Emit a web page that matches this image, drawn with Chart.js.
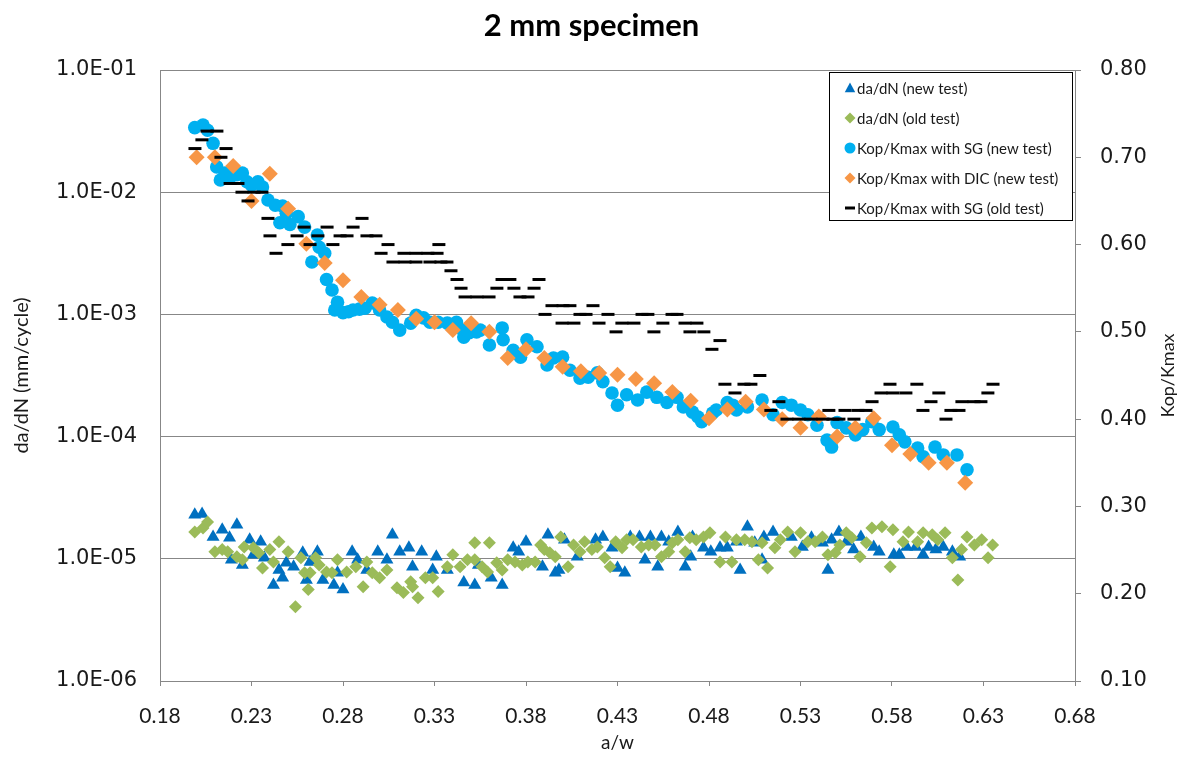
<!DOCTYPE html>
<html><head><meta charset="utf-8">
<script src="https://cdn.jsdelivr.net/npm/chart.js@4.4.0/dist/chart.umd.min.js"></script>
<style>html,body{margin:0;padding:0;background:#fff;}#wrap{width:1183px;height:758px;position:relative;}</style>
</head><body><div id="wrap"><canvas id="c" width="1183" height="758"></canvas></div>
<script>
const titleText = '2 mm specimen';
const xTitle = 'a/w';
const yLeftTitle = 'da/dN (mm/cycle)';
const yRightTitle = 'Kop/Kmax';
const seriesNames = ['da/dN (new test)','da/dN (old test)','Kop/Kmax with SG (new test)','Kop/Kmax with DIC (new test)','Kop/Kmax with SG (old test)'];
const xTicks = [0.18,0.23,0.28,0.33,0.38,0.43,0.48,0.53,0.58,0.63,0.68];
const leftTicks = [1e-6,1e-5,1e-4,1e-3,1e-2,1e-1];
const rightTicks = [0.1,0.2,0.3,0.4,0.5,0.6,0.7,0.8];

// da/dN (new test) - triangles, left log axis
const daNewX = [0.199,0.203,0.209,0.214,0.218,0.219,0.222,0.225,0.229,0.231,0.235,0.237,0.242,0.245,0.247,0.249,0.253,0.258,0.260,0.262,0.266,0.269,0.275,0.277,0.280,0.285,0.288,0.293,0.299,0.304,0.307,0.311,0.316,0.318,0.323,0.329,0.331,0.337,0.346,0.352,0.354,0.361,0.367,0.373,0.376,0.380,0.389,0.392,0.396,0.398,0.401,0.408,0.418,0.422,0.427,0.430,0.434,0.437,0.442,0.445,0.448,0.452,0.454,0.458,0.463,0.467,0.470,0.471,0.477,0.481,0.486,0.490,0.495,0.497,0.501,0.505,0.509,0.510,0.515,0.525,0.531,0.536,0.542,0.545,0.547,0.551,0.555,0.559,0.563,0.570,0.573,0.581,0.584,0.588,0.593,0.597,0.600,0.604,0.608,0.613,0.617];
const daNewY = [2.29e-5,2.33e-5,1.51e-5,1.73e-5,1.49e-5,9.8e-6,1.90e-5,8.9e-6,1.43e-5,1.08e-5,1.38e-5,1.02e-5,6.1e-6,8.1e-6,7.0e-6,9.3e-6,8.6e-6,1.12e-5,6.7e-6,9.4e-6,1.14e-5,6.7e-6,6.1e-6,7.7e-6,5.6e-6,1.14e-5,9.8e-6,8.1e-6,1.14e-5,9.8e-6,1.57e-5,1.14e-5,1.23e-5,8.6e-6,1.14e-5,8.1e-6,1.04e-5,8.1e-6,6.4e-6,6.1e-6,8.9e-6,7.0e-6,6.1e-6,1.23e-5,1.14e-5,1.38e-5,8.6e-6,1.57e-5,7.7e-6,8.1e-6,1.43e-5,1.04e-5,1.43e-5,1.51e-5,1.23e-5,8.4e-6,7.7e-6,1.51e-5,1.51e-5,9.8e-6,1.51e-5,8.6e-6,1.51e-5,1.38e-5,1.66e-5,8.6e-6,1.04e-5,1.51e-5,1.23e-5,1.14e-5,1.23e-5,1.23e-5,1.38e-5,8.1e-6,1.83e-5,1.35e-5,9.8e-6,1.51e-5,1.66e-5,1.51e-5,1.25e-5,1.49e-5,1.35e-5,8.1e-6,1.43e-5,1.66e-5,1.38e-5,1.19e-5,1.51e-5,1.25e-5,1.14e-5,1.08e-5,1.08e-5,1.25e-5,1.25e-5,1.08e-5,1.25e-5,1.19e-5,1.25e-5,1.14e-5,1.04e-5];

// da/dN (old test) - green diamonds, left log axis
const daOldX = [0.199,0.2035,0.206,0.210,0.214,0.217,0.222,0.225,0.226,0.231,0.234,0.236,0.240,0.242,0.245,0.250,0.254,0.257,0.259,0.261,0.262,0.265,0.267,0.271,0.274,0.277,0.282,0.287,0.291,0.293,0.296,0.300,0.304,0.3095,0.313,0.317,0.318,0.321,0.325,0.329,0.332,0.337,0.340,0.344,0.348,0.352,0.352,0.356,0.359,0.360,0.364,0.367,0.370,0.374,0.378,0.381,0.385,0.388,0.390,0.393,0.396,0.399,0.403,0.406,0.4095,0.412,0.416,0.419,0.423,0.426,0.429,0.4325,0.435,0.4385,0.443,0.447,0.4505,0.454,0.458,0.460,0.463,0.467,0.4695,0.473,0.477,0.4805,0.486,0.489,0.4925,0.495,0.4995,0.5035,0.507,0.509,0.512,0.516,0.519,0.523,0.527,0.530,0.534,0.538,0.542,0.545,0.549,0.5515,0.555,0.558,0.5625,0.566,0.569,0.5745,0.579,0.5805,0.586,0.589,0.594,0.597,0.602,0.605,0.609,0.613,0.616,0.618,0.621,0.625,0.629,0.6325,0.635];
const daOldY = [1.66e-5,1.79e-5,2.0e-5,1.14e-5,1.19e-5,1.14e-5,1.04e-5,9.8e-6,1.25e-5,1.23e-5,1.12e-5,8.4e-6,1.19e-5,9.4e-6,1.38e-5,1.14e-5,4.05e-6,1.02e-5,7.7e-6,5.6e-6,7.7e-6,1.02e-5,8.9e-6,7.8e-6,7.7e-6,9.8e-6,7.8e-6,8.6e-6,5.9e-6,9.4e-6,7.7e-6,7.0e-6,8.1e-6,5.8e-6,5.3e-6,6.5e-6,5.9e-6,4.8e-6,7.0e-6,7.0e-6,5.4e-6,8.6e-6,1.08e-5,8.6e-6,9.8e-6,1.35e-5,9.8e-6,8.6e-6,7.8e-6,1.35e-5,9.3e-6,8.1e-6,9.8e-6,9.4e-6,8.9e-6,9.4e-6,9.4e-6,1.30e-5,1.19e-5,1.12e-5,1.04e-5,1.51e-5,8.6e-6,1.30e-5,1.14e-5,1.38e-5,1.19e-5,1.25e-5,1.02e-5,8.6e-6,1.38e-5,1.23e-5,1.43e-5,1.43e-5,1.25e-5,1.30e-5,1.30e-5,1.04e-5,1.14e-5,1.35e-5,1.43e-5,1.14e-5,1.49e-5,1.43e-5,1.51e-5,1.63e-5,9.4e-6,1.51e-5,9.4e-6,1.43e-5,1.43e-5,1.38e-5,9.8e-6,1.35e-5,8.4e-6,1.23e-5,1.43e-5,1.66e-5,1.14e-5,1.63e-5,1.38e-5,1.38e-5,1.51e-5,1.08e-5,1.12e-5,1.30e-5,1.63e-5,1.49e-5,1.04e-5,1.35e-5,1.79e-5,1.83e-5,8.6e-6,1.73e-5,1.38e-5,1.66e-5,1.38e-5,1.63e-5,1.57e-5,1.43e-5,1.63e-5,1.02e-5,6.7e-6,1.19e-5,1.51e-5,1.30e-5,1.43e-5,1.02e-5,1.30e-5];

// Kop/Kmax with SG (new test) - cyan circles, right axis
const sgNewX = [0.199,0.2035,0.206,0.209,0.211,0.213,0.2155,0.218,0.222,0.225,0.2275,0.230,0.2335,0.236,0.239,0.243,0.2455,0.247,0.249,0.251,0.2555,0.259,0.263,0.266,0.267,0.270,0.271,0.274,0.2755,0.277,0.280,0.283,0.2855,0.289,0.292,0.296,0.300,0.304,0.307,0.311,0.317,0.320,0.324,0.3275,0.332,0.337,0.340,0.342,0.3455,0.346,0.349,0.353,0.355,0.360,0.367,0.3675,0.373,0.377,0.3805,0.386,0.3915,0.395,0.400,0.404,0.4095,0.414,0.419,0.422,0.427,0.430,0.435,0.441,0.446,0.4515,0.457,0.4625,0.466,0.471,0.474,0.476,0.482,0.484,0.490,0.493,0.495,0.501,0.509,0.515,0.520,0.525,0.530,0.534,0.539,0.5445,0.547,0.550,0.555,0.560,0.564,0.569,0.573,0.5805,0.584,0.587,0.594,0.597,0.6035,0.608,0.6155,0.621];
const sgNewY = [0.734,0.737,0.731,0.716,0.689,0.674,0.682,0.676,0.680,0.682,0.672,0.668,0.672,0.666,0.651,0.645,0.625,0.644,0.636,0.623,0.632,0.620,0.580,0.611,0.597,0.590,0.560,0.548,0.525,0.534,0.522,0.523,0.525,0.526,0.527,0.533,0.525,0.517,0.511,0.502,0.510,0.519,0.516,0.511,0.511,0.510,0.508,0.511,0.502,0.494,0.499,0.500,0.502,0.485,0.5045,0.491,0.479,0.471,0.491,0.483,0.462,0.470,0.471,0.456,0.447,0.448,0.453,0.443,0.430,0.416,0.428,0.422,0.431,0.425,0.419,0.425,0.414,0.408,0.4025,0.397,0.407,0.4105,0.419,0.416,0.4105,0.414,0.422,0.405,0.419,0.416,0.4105,0.405,0.393,0.376,0.368,0.396,0.390,0.382,0.388,0.397,0.388,0.391,0.382,0.374,0.367,0.357,0.368,0.359,0.359,0.342];

// Kop/Kmax with DIC (new test) - orange diamonds, right axis
const dicNewX = [0.20,0.21,0.22,0.23,0.24,0.25,0.26,0.27,0.28,0.29,0.30,0.31,0.32,0.33,0.34,0.35,0.36,0.37,0.38,0.39,0.40,0.41,0.42,0.43,0.44,0.45,0.46,0.47,0.48,0.49,0.50,0.51,0.52,0.53,0.54,0.55,0.56,0.57,0.58,0.59,0.60,0.61,0.62];
const dicNewY = [0.700,0.700,0.690,0.650,0.681,0.641,0.601,0.579,0.559,0.540,0.531,0.525,0.515,0.511,0.502,0.510,0.500,0.470,0.480,0.470,0.460,0.455,0.453,0.451,0.446,0.441,0.431,0.421,0.401,0.411,0.420,0.411,0.400,0.390,0.403,0.380,0.390,0.401,0.370,0.360,0.350,0.350,0.327];

// Kop/Kmax with SG (old test) - black dashes, right axis
const sgOldX = [0.1991,0.2029,0.2057,0.2111,0.2133,0.2161,0.2183,0.2226,0.2248,0.2281,0.2314,0.2357,0.2390,0.2401,0.2434,0.2499,0.2549,0.2587,0.2620,0.2663,0.2713,0.2745,0.2784,0.2822,0.2855,0.2904,0.2931,0.2980,0.3008,0.3046,0.3073,0.3133,0.3139,0.3199,0.3199,0.3264,0.3275,0.3314,0.3324,0.3335,0.3368,0.3390,0.3423,0.3445,0.3467,0.3532,0.3598,0.3641,0.3669,0.3712,0.3734,0.3767,0.3811,0.3844,0.3871,0.3904,0.3942,0.3997,0.4002,0.4040,0.4062,0.4095,0.4128,0.4166,0.4199,0.4248,0.4292,0.4324,0.4390,0.4434,0.4466,0.4499,0.4548,0.4598,0.4625,0.4669,0.4696,0.4734,0.4772,0.4816,0.4860,0.4887,0.4942,0.4991,0.5029,0.5078,0.5138,0.5182,0.5226,0.5291,0.5357,0.5423,0.5455,0.5477,0.5510,0.5543,0.5592,0.5614,0.5658,0.5691,0.5740,0.5789,0.5805,0.5876,0.5936,0.5969,0.6013,0.6056,0.6095,0.6122,0.6166,0.6182,0.6248,0.6286,0.6324,0.6352];
const sgOldY = [0.71,0.72,0.73,0.73,0.70,0.71,0.67,0.67,0.66,0.65,0.66,0.66,0.63,0.61,0.59,0.60,0.61,0.62,0.60,0.61,0.62,0.60,0.61,0.61,0.62,0.63,0.61,0.61,0.59,0.60,0.58,0.59,0.58,0.58,0.59,0.59,0.58,0.59,0.60,0.58,0.58,0.57,0.56,0.55,0.54,0.54,0.54,0.55,0.56,0.56,0.55,0.54,0.54,0.55,0.56,0.52,0.53,0.51,0.53,0.53,0.51,0.52,0.52,0.53,0.51,0.52,0.50,0.51,0.51,0.52,0.52,0.50,0.51,0.52,0.52,0.51,0.50,0.51,0.50,0.48,0.49,0.44,0.43,0.44,0.44,0.45,0.41,0.42,0.40,0.40,0.40,0.40,0.41,0.40,0.40,0.41,0.40,0.41,0.41,0.42,0.43,0.44,0.43,0.43,0.44,0.41,0.42,0.43,0.40,0.41,0.41,0.42,0.42,0.42,0.43,0.44];

const colTri = '#0070C0', colGreen = '#9BBB59', colCyan = '#00B0F0', colOrange = '#F79646', colBlack = '#000000';
const gridCol = '#878787';
const zip = (xs, ys) => xs.map((x, i) => ({x: x, y: ys[i]}));

function fmtSci(v) {
  const parts = v.toExponential(1).split('e');
  const n = parseInt(parts[1], 10);
  return parts[0] + 'E' + (n < 0 ? '-' : '+') + String(Math.abs(n)).padStart(2, '0');
}

const legendPlugin = {
  id: 'customLegend',
  afterDraw(chart) {
    const ctx = chart.ctx;
    const ca = chart.chartArea;
    ctx.save();
    ctx.fillStyle = '#1a1a1a';
    ctx.font = '18px Lato';
    ctx.textAlign = 'center';
    ctx.textBaseline = 'middle';
    ctx.translate(1168, (ca.top + ca.bottom) / 2);
    ctx.rotate(-Math.PI / 2);
    ctx.fillText(yRightTitle, 0, 0);
    ctx.restore();

    ctx.save();
    const bx = 829, by = 72, bw = 243, bh = 148;
    ctx.fillStyle = '#ffffff';
    ctx.fillRect(bx, by, bw, bh);
    ctx.strokeStyle = '#000';
    ctx.lineWidth = 1;
    ctx.strokeRect(bx + 0.5, by + 0.5, bw, bh);
    const rows = [88, 118, 148, 178, 208];
    const styles = chart.data.datasets.slice().sort((a, b) => a.legendIndex - b.legendIndex);
    ctx.font = '15px Lato';
    ctx.textAlign = 'left';
    ctx.textBaseline = 'middle';
    styles.forEach((ds, i) => {
      const y = rows[i];
      const mx = 850;
      ctx.fillStyle = ds.pointBackgroundColor;
      ctx.strokeStyle = ds.pointBorderColor;
      ctx.beginPath();
      const r = 5.5;
      if (ds.pointStyle === 'triangle') {
        ctx.moveTo(mx, y - r); ctx.lineTo(mx + r * 0.95, y + r * 0.75); ctx.lineTo(mx - r * 0.95, y + r * 0.75); ctx.closePath(); ctx.fill();
      } else if (ds.pointStyle === 'rectRot') {
        ctx.moveTo(mx, y - r); ctx.lineTo(mx + r, y); ctx.lineTo(mx, y + r); ctx.lineTo(mx - r, y); ctx.closePath(); ctx.fill();
      } else if (ds.pointStyle === 'circle') {
        ctx.arc(mx, y, r, 0, Math.PI * 2); ctx.fill();
      } else {
        ctx.lineWidth = 3; ctx.moveTo(mx - 5, y); ctx.lineTo(mx + 5, y); ctx.stroke();
      }
      ctx.fillStyle = '#1a1a1a';
      ctx.fillText(ds.label, 857, y + 1);
    });
    ctx.restore();
  }
};

const datasets = [
  {label: seriesNames[0], legendIndex: 0, order: 5, yAxisID: 'yL', data: zip(daNewX, daNewY), pointStyle: 'triangle', pointRadius: 7.5, pointBackgroundColor: colTri, pointBorderColor: colTri, pointBorderWidth: 0, showLine: false},
  {label: seriesNames[1], legendIndex: 1, order: 4, yAxisID: 'yL', data: zip(daOldX, daOldY), pointStyle: 'rectRot', pointRadius: 6.5, pointBackgroundColor: colGreen, pointBorderColor: colGreen, pointBorderWidth: 0, showLine: false},
  {label: seriesNames[2], legendIndex: 2, order: 3, yAxisID: 'yR', data: zip(sgNewX, sgNewY), pointStyle: 'circle', pointRadius: 6.8, pointBackgroundColor: colCyan, pointBorderColor: colCyan, pointBorderWidth: 0, showLine: false},
  {label: seriesNames[3], legendIndex: 3, order: 2, yAxisID: 'yR', data: zip(dicNewX, dicNewY), pointStyle: 'rectRot', pointRadius: 8, pointBackgroundColor: colOrange, pointBorderColor: colOrange, pointBorderWidth: 0, showLine: false},
  {label: seriesNames[4], legendIndex: 4, order: 1, yAxisID: 'yR', data: zip(sgOldX, sgOldY), pointStyle: 'line', pointRadius: 6.5, pointBackgroundColor: colBlack, pointBorderColor: colBlack, pointBorderWidth: 3, showLine: false}
];

new Chart(document.getElementById('c'), {
  type: 'scatter',
  data: {datasets: datasets},
  plugins: [legendPlugin],
  options: {
    responsive: false,
    animation: false,
    devicePixelRatio: 1,
    events: [],
    layout: {padding: 0},
    plugins: {
      legend: {display: false},
      tooltip: {enabled: false},
      title: {display: true, text: titleText, color: '#000', font: {family: 'Lato', size: 31, weight: 'bold'}, padding: {top: 7, bottom: 25.8}}
    },
    scales: {
      x: {
        type: 'linear', min: 0.18, max: 0.68,
        afterBuildTicks: s => { s.ticks = xTicks.map(v => ({value: v})); },
        afterFit: s => { s.height = 77; },
        ticks: {autoSkip: false, maxRotation: 0, padding: 18, color: '#1a1a1a', font: {family: 'Lato', size: 21}, callback: v => Number(v).toFixed(2)},
        grid: {drawOnChartArea: false, tickLength: 5, color: gridCol},
        border: {color: gridCol},
        title: {display: true, text: xTitle, color: '#1a1a1a', font: {family: 'Lato', size: 19}, padding: {top: 0, bottom: 4}}
      },
      yL: {
        type: 'logarithmic', position: 'left', min: 1e-6, max: 1e-1,
        afterBuildTicks: s => { s.ticks = leftTicks.map(v => ({value: v})); },
        afterFit: s => { s.width = 160; },
        ticks: {autoSkip: false, padding: 23, color: '#1a1a1a', font: {family: 'DejaVu Sans', size: 21}, callback: v => fmtSci(Number(v))},
        grid: {drawTicks: false, color: gridCol, lineWidth: 1},
        border: {color: gridCol},
        title: {display: true, text: yLeftTitle, color: '#1a1a1a', font: {family: 'Lato', size: 20}, padding: {top: 10, bottom: 0}}
      },
      yR: {
        type: 'linear', position: 'right', min: 0.1, max: 0.8,
        afterBuildTicks: s => { s.ticks = rightTicks.map(v => ({value: v})); },
        afterFit: s => { s.width = 108; },
        ticks: {autoSkip: false, padding: 19, color: '#1a1a1a', font: {family: 'DejaVu Sans', size: 21}, callback: v => Number(v).toFixed(2)},
        grid: {drawOnChartArea: false, tickLength: 6, color: gridCol},
        border: {color: gridCol}
      }
    }
  }
});
</script>
</body></html>
